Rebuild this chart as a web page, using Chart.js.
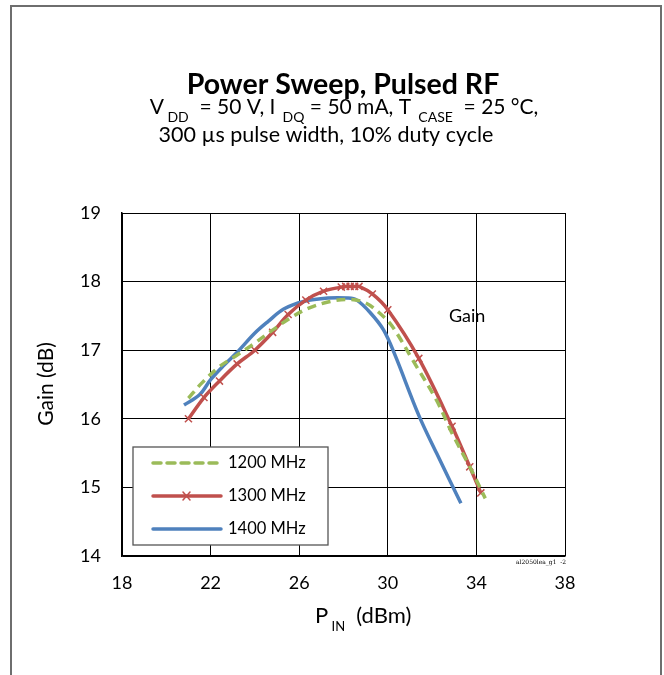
<!DOCTYPE html>
<html>
<head>
<meta charset="utf-8">
<script src="https://cdn.jsdelivr.net/npm/chart.js@4.4.0/dist/chart.umd.min.js"></script>
<style>
body{margin:0;background:#fff;}
#caja{width:664px;height:675px;}
</style>
</head>
<body>
<div id="caja"><canvas id="myChart" width="664" height="675"></canvas></div>
<script>
var xTicks = [18,22,26,30,34,38];
var yTicks = [14,15,16,17,18,19];
var series = ['1200 MHz','1300 MHz','1400 MHz'];
var colores = ['#9BBB59','#C0504D','#4F81BD'];

var pin1200 = [21.0,21.6,22.4,23.2,23.9,24.7,25.6,26.4,27.4,28.3,29.0,29.6,30.1,30.5,31.1,32.2,32.9,33.7,34.4];
var gain1200 = [16.3,16.52,16.76,16.93,17.08,17.27,17.47,17.61,17.71,17.74,17.69,17.55,17.39,17.2,16.87,16.27,15.79,15.3,14.84];

var pin1300 = [21.0,21.7,22.4,23.2,24.0,24.8,25.5,26.3,27.1,27.9,28.1,28.3,28.5,28.7,29.3,30.0,31.4,32.9,33.7,34.2];
var gain1300 = [16.0,16.31,16.55,16.8,17.0,17.26,17.52,17.73,17.86,17.92,17.93,17.93,17.93,17.93,17.82,17.59,16.88,15.89,15.3,14.92];

var pin1400 = [20.8,21.5,22.0,22.6,23.2,24.0,24.6,25.3,26.2,27.3,28.2,28.6,29.2,29.8,30.3,31.4,32.2,33.3];
var gain1400 = [16.2,16.35,16.57,16.78,16.97,17.25,17.42,17.6,17.71,17.76,17.76,17.73,17.55,17.3,16.95,16.05,15.5,14.77];

function puntos(xs, ys){
	var p = [];
	for (var i=0;i<xs.length;i++){
		p.push({x: xs[i], y: ys[i]});
	}
	return p;
}

var fuente = 'Lato, "Noto Sans", sans-serif';

// texto con subindices: [texto, esSub]
function pintarTexto(ctx, trozos, x, y, tam, tamSub, bajada, centrar){
	var ancho = 0;
	trozos.forEach(function(t){
		ctx.font = (t[1] ? tamSub : tam) + 'px ' + fuente;
		ancho += ctx.measureText(t[0]).width;
	});
	var cx = centrar ? x - ancho/2 : x;
	ctx.textAlign = 'left';
	ctx.textBaseline = 'alphabetic';
	trozos.forEach(function(t){
		ctx.font = (t[1] ? tamSub : tam) + 'px ' + fuente;
		ctx.fillText(t[0], cx, t[1] ? y + bajada : y);
		cx += ctx.measureText(t[0]).width;
	});
}

var marco = {
	id: 'marco',
	beforeDraw: function(chart){
		var ctx = chart.ctx;
		ctx.save();
		ctx.fillStyle = '#fff';
		ctx.fillRect(0,0,chart.width,chart.height);
		ctx.strokeStyle = '#6e6e6e';
		ctx.lineWidth = 2;
		ctx.beginPath();
		ctx.moveTo(11, 675);
		ctx.lineTo(11, 6);
		ctx.lineTo(661, 6);
		ctx.lineTo(661, 675);
		ctx.stroke();
		ctx.restore();
	},
	afterDraw: function(chart){
		var ctx = chart.ctx;
		ctx.save();
		ctx.fillStyle = '#000';
		// titulo
		ctx.font = 'bold 28.5px ' + fuente;
		ctx.textAlign = 'center';
		ctx.textBaseline = 'alphabetic';
		ctx.fillText('Power Sweep, Pulsed RF', 343, 94);
		pintarTexto(ctx, [['V',0],[' DD',1],['  = 50 V, I',0],['  DQ',1],[' = 50 mA, T',0],['  CASE',1],['  = 25 °C,',0]], 344, 114, 21, 14, 8, true);
		pintarTexto(ctx, [['300 µs pulse width, 10% duty cycle',0]], 326, 142, 21.5, 14, 0, true);
		// titulos de ejes
		pintarTexto(ctx, [['P',0],[' IN',1],['  (dBm)',0]], 315, 623, 22, 13, 8, false);
		ctx.save();
		ctx.translate(53, 384);
		ctx.rotate(-Math.PI/2);
		ctx.font = '21px ' + fuente;
		ctx.textAlign = 'center';
		ctx.fillText('Gain (dB)', 0, 0);
		ctx.restore();
		// etiqueta Gain
		ctx.font = '18px ' + fuente;
		ctx.textAlign = 'left';
		ctx.textBaseline = 'middle';
		ctx.fillText('Gain', 449, 316);
		// codigo pequeno
		ctx.font = '6px "DejaVu Serif", serif';
		ctx.fillText('al2050lea_g1  -2', 516, 562);
		// leyenda
		ctx.fillStyle = '#fff';
		ctx.fillRect(133, 447, 195, 98);
		ctx.strokeStyle = '#555';
		ctx.lineWidth = 1.3;
		ctx.strokeRect(133, 447, 195, 98);
		var filas = [463, 496, 529];
		for (var i=0;i<3;i++){
			ctx.strokeStyle = colores[i];
			ctx.lineWidth = 3.5;
			ctx.lineCap = 'round';
			ctx.setLineDash(i==0 ? [8,6] : []);
			ctx.beginPath();
			ctx.moveTo(153, filas[i]);
			ctx.lineTo(221, filas[i]);
			ctx.stroke();
			ctx.setLineDash([]);
			if (i==1){
				ctx.lineWidth = 1.5;
				ctx.beginPath();
				ctx.moveTo(183, filas[i]-4); ctx.lineTo(190, filas[i]+4);
				ctx.moveTo(190, filas[i]-4); ctx.lineTo(183, filas[i]+4);
				ctx.stroke();
			}
			ctx.fillStyle = '#000';
			ctx.font = '16.5px ' + fuente;
			ctx.textBaseline = 'middle';
			ctx.fillText(series[i], 228, filas[i]);
		}
		ctx.restore();
	}
};

var datos = {
	datasets: [
		{
			label: series[0],
			data: puntos(pin1200, gain1200),
			borderColor: colores[0],
			borderWidth: 3.5,
			borderDash: [9,6],
			pointRadius: 0,
			tension: 0.35
		},
		{
			label: series[1],
			data: puntos(pin1300, gain1300),
			borderColor: colores[1],
			borderWidth: 3.5,
			pointStyle: 'crossRot',
			pointRadius: 5,
			pointBorderWidth: 1.5,
			pointBorderColor: colores[1],
			pointBackgroundColor: colores[1],
			tension: 0.35
		},
		{
			label: series[2],
			data: puntos(pin1400, gain1400),
			borderColor: colores[2],
			borderWidth: 3.5,
			pointRadius: 0,
			tension: 0.35
		}
	]
};

var opciones = {
	responsive: false,
	animation: false,
	layout: { padding: { top: 213, right: 99, left: 0, bottom: 0 } },
	plugins: {
		legend: { display: false },
		title: { display: false },
		tooltip: { enabled: false }
	},
	scales: {
		x: {
			type: 'linear',
			min: xTicks[0],
			max: xTicks[xTicks.length-1],
			afterBuildTicks: function(s){ s.ticks = xTicks.map(function(v){ return {value: v}; }); },
			afterFit: function(s){ s.height = 119; },
			grid: { color: '#000', lineWidth: 1, drawTicks: false },
			border: { color: '#000', width: 1.5 },
			ticks: { color: '#000', padding: 16, font: { family: fuente, size: 18 } }
		},
		y: {
			type: 'linear',
			min: yTicks[0],
			max: yTicks[yTicks.length-1],
			afterBuildTicks: function(s){ s.ticks = yTicks.map(function(v){ return {value: v}; }); },
			afterFit: function(s){ s.width = 122; },
			grid: { color: '#000', lineWidth: 1, drawTicks: false },
			border: { color: '#000', width: 1.5 },
			ticks: { color: '#000', padding: 21, font: { family: fuente, size: 18 } }
		}
	}
};

var myChart = new Chart(document.getElementById('myChart'), {
	type: 'line',
	data: datos,
	options: opciones,
	plugins: [marco]
});
</script>
</body>
</html>
